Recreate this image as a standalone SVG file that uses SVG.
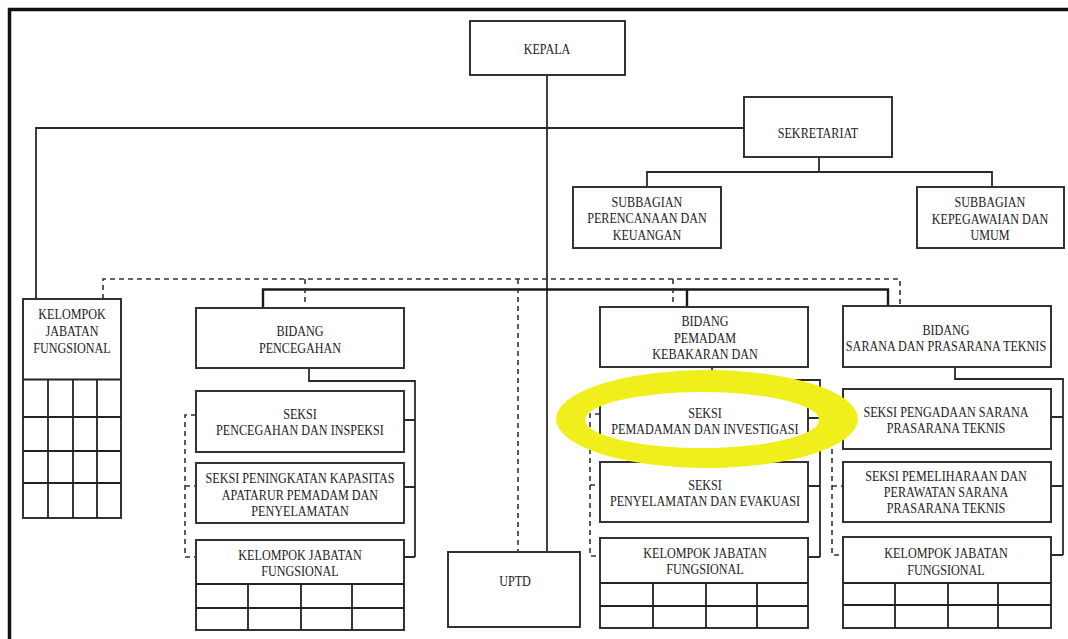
<svg xmlns="http://www.w3.org/2000/svg" width="1068" height="639" viewBox="0 0 1068 639">
<style>
.bx{fill:#fff;stroke:#333;stroke-width:2}
.ln{fill:none;stroke:#2a2a2a;stroke-width:1.8}
.bus{fill:none;stroke:#1a1a1a;stroke-width:2.4}
.ds{fill:none;stroke:#333;stroke-width:1.6;stroke-dasharray:5 4}
.gr{fill:none;stroke:#222;stroke-width:1.8}
text{font-family:"Liberation Serif","Times New Roman",serif;font-size:15px;fill:#222;text-anchor:middle}
</style>
<rect width="1068" height="639" fill="#fff"/>
<path d="M9.5 639 V9.5 H1068" fill="none" stroke="#111" stroke-width="3.5"/>

<g id="connectors">
  <path class="ln" d="M547 75 V552"/>
  <path class="ln" d="M744 128 H36 V299"/>
  <path class="ln" d="M819 157 V172 M647 187 V172 H992 V187"/>
  <path class="bus" d="M263 308 V289.5 H888 V306 M687 289.5 V307"/>
  <path class="ds" d="M103 299 V279 H900 V306 M305 279 V303 M518 279 V552 M673 279 V302"/>
  <path class="ln" d="M309 368 V381 H415 V557 M404 420 H415 M404 487 H415 M404 557 H415"/>
  <path class="ds" d="M196 415 H185 V557 H196 M185 486 H196"/>
  <path class="ln" d="M712 367 V380 H820 V557 M808 418 H820 M808 486 H820 M808 557 H820"/>
  <path class="ds" d="M600 414 H590 V556 H600 M590 485 H600"/>
  <path class="ln" d="M955 367 V379 H1063 V555 M1051 417 H1063 M1051 486 H1063 M1051 555 H1063"/>
  <path class="ds" d="M843 415 H832 V555 H843 M832 486 H843"/>
</g>

<g id="kepala"><rect class="bx" x="470" y="21" width="155" height="54"/>
<g transform="translate(547,0) scale(0.81,1)"><text y="54">KEPALA</text></g></g>

<g id="sekretariat"><rect class="bx" x="744" y="97" width="148" height="60"/>
<g transform="translate(818,0) scale(0.81,1)"><text y="138">SEKRETARIAT</text></g></g>

<g id="subbagian-perencanaan"><rect class="bx" x="573" y="187" width="148" height="61"/>
<g transform="translate(647,0) scale(0.81,1)"><text y="207">SUBBAGIAN</text><text y="223">PERENCANAAN DAN</text><text y="240">KEUANGAN</text></g></g>

<g id="subbagian-kepegawaian"><rect class="bx" x="917" y="187" width="147" height="61"/>
<g transform="translate(990,0) scale(0.81,1)"><text y="207">SUBBAGIAN</text><text y="224">KEPEGAWAIAN DAN</text><text y="240">UMUM</text></g></g>

<g id="kelompok-fungsional-kiri"><rect class="bx" x="23" y="299" width="98" height="219"/>
<path class="gr" d="M23 379.5 H121" stroke-width="3"/>
<path class="gr" d="M23 417 H121 M23 451 H121 M23 483 H121 M48 379 V518 M73 379 V518 M97 379 V518"/>
<g transform="translate(72,0) scale(0.81,1)"><text y="319">KELOMPOK</text><text y="336">JABATAN</text><text y="353">FUNGSIONAL</text></g></g>

<g id="bidang-pencegahan"><rect class="bx" x="196" y="308" width="208" height="60"/>
<g transform="translate(300,0) scale(0.81,1)"><text y="336">BIDANG</text><text y="353">PENCEGAHAN</text></g></g>

<g id="seksi-pencegahan"><rect class="bx" x="196" y="391" width="208" height="61"/>
<g transform="translate(300,0) scale(0.81,1)"><text y="419">SEKSI</text><text y="435">PENCEGAHAN DAN INSPEKSI</text></g></g>

<g id="seksi-peningkatan"><rect class="bx" x="196" y="463" width="208" height="60"/>
<g transform="translate(300,0) scale(0.81,1)"><text y="483">SEKSI PENINGKATAN KAPASITAS</text><text y="500">APATARUR PEMADAM DAN</text><text y="516">PENYELAMATAN</text></g></g>

<g id="kelompok-pencegahan"><rect class="bx" x="196" y="540" width="208" height="90"/>
<path class="gr" d="M196 584 H404 M196 608 H404 M248 584 V630 M301 584 V630 M352 584 V630"/>
<g transform="translate(300,0) scale(0.81,1)"><text y="560">KELOMPOK JABATAN</text><text y="576">FUNGSIONAL</text></g></g>

<g id="uptd"><rect class="bx" x="448" y="552" width="132" height="75"/>
<g transform="translate(515,0) scale(0.81,1)"><text y="586">UPTD</text></g></g>

<g id="bidang-pemadam"><rect class="bx" x="600" y="307" width="208" height="60"/>
<g transform="translate(705,0) scale(0.81,1)"><text y="326">BIDANG</text><text y="343">PEMADAM</text><text y="359">KEBAKARAN DAN</text></g></g>

<g id="seksi-pemadaman"><rect class="bx" x="600" y="390" width="208" height="61"/>
<g transform="translate(705,0) scale(0.81,1)"><text y="418">SEKSI</text><text y="434">PEMADAMAN DAN INVESTIGASI</text></g></g>

<g id="seksi-penyelamatan"><rect class="bx" x="600" y="462" width="208" height="60"/>
<g transform="translate(705,0) scale(0.81,1)"><text y="490">SEKSI</text><text y="506">PENYELAMATAN DAN EVAKUASI</text></g></g>

<g id="kelompok-pemadam"><rect class="bx" x="600" y="538" width="208" height="90"/>
<path class="gr" d="M600 583 H808 M600 606 H808 M653 583 V628 M706 583 V628 M757 583 V628"/>
<g transform="translate(705,0) scale(0.81,1)"><text y="558">KELOMPOK JABATAN</text><text y="574">FUNGSIONAL</text></g></g>

<g id="bidang-sarana"><rect class="bx" x="843" y="306" width="208" height="61"/>
<g transform="translate(946,0) scale(0.81,1)"><text y="335">BIDANG</text><text y="351">SARANA DAN PRASARANA TEKNIS</text></g></g>

<g id="seksi-pengadaan"><rect class="bx" x="843" y="389" width="208" height="60"/>
<g transform="translate(946,0) scale(0.81,1)"><text y="417">SEKSI PENGADAAN SARANA</text><text y="433">PRASARANA TEKNIS</text></g></g>

<g id="seksi-pemeliharaan"><rect class="bx" x="843" y="462" width="208" height="60"/>
<g transform="translate(946,0) scale(0.81,1)"><text y="481">SEKSI PEMELIHARAAN DAN</text><text y="497">PERAWATAN SARANA</text><text y="513">PRASARANA TEKNIS</text></g></g>

<g id="kelompok-sarana"><rect class="bx" x="843" y="537" width="208" height="91"/>
<path class="gr" d="M843 583 H1051 M843 605 H1051 M895 583 V628 M948 583 V628 M998 583 V628"/>
<g transform="translate(946,0) scale(0.81,1)"><text y="558">KELOMPOK JABATAN</text><text y="575">FUNGSIONAL</text></g></g>

<path id="highlight" fill="#f0ef1c" fill-rule="evenodd" d="M556 419 A151 49 0 1 0 858 419 A151 49 0 1 0 556 419 Z M585 420 A117 28 0 1 0 819 420 A117 28 0 1 0 585 420 Z"/>
</svg>
